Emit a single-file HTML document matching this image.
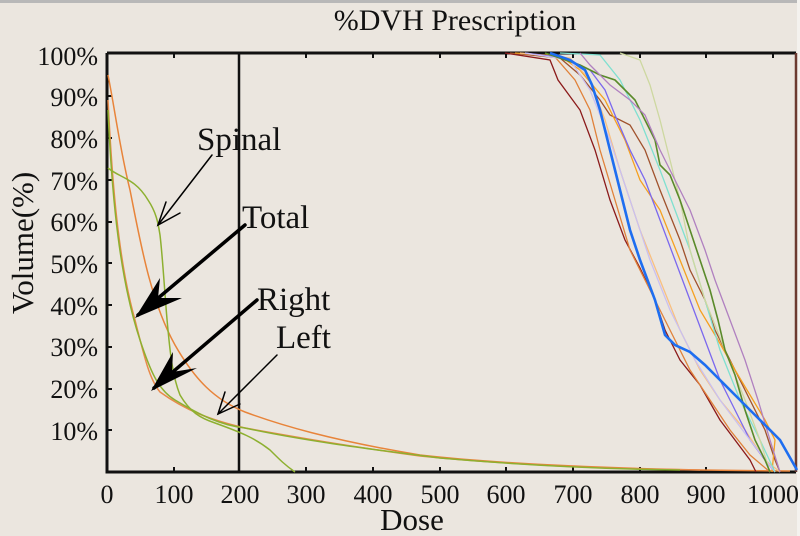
<!DOCTYPE html>
<html><head><meta charset="utf-8"><style>
html,body{margin:0;padding:0;background:#fff;}
svg{display:block;}
text{font-family:"Liberation Serif",serif;fill:#111;}
</style></head><body>
<svg width="800" height="536" viewBox="0 0 800 536" xmlns="http://www.w3.org/2000/svg">
<rect x="0" y="0" width="800" height="536" fill="#ebe6df"/>
<rect x="0" y="0" width="800" height="3" fill="#b8b8b8"/>
<rect x="797" y="0" width="3" height="536" fill="#f4f2ee"/>
<text x="455" y="30" font-size="30" text-anchor="middle">%DVH Prescription</text>

<g stroke="#111" fill="none">
<path d="M107,53 H796 M107,53 V472 H796" stroke-width="3"/>
<line x1="239" y1="53" x2="239" y2="472" stroke-width="2.5"/>
<line x1="796" y1="53" x2="796" y2="472" stroke="#6b3a30" stroke-width="2.5"/>
<g stroke-width="2">
<path d="M174,472v-5M306,472v-5M373,472v-5M440,472v-5M506,472v-5M573,472v-5M640,472v-5M706,472v-5M773,472v-5"/>
<path d="M174,53v5M306,53v5M373,53v5M440,53v5M506,53v5M573,53v5M640,53v5M706,53v5M773,53v5"/>
<path d="M107,430h5M107,389h5M107,347h5M107,305h5M107,263h5M107,222h5M107,180h5M107,138h5M107,96h5"/>
</g>
</g>

<g font-size="26" text-anchor="end">
<text x="98" y="65">100%</text>
<text x="98" y="106">90%</text>
<text x="98" y="148">80%</text>
<text x="98" y="190">70%</text>
<text x="98" y="231">60%</text>
<text x="98" y="273">50%</text>
<text x="98" y="315">40%</text>
<text x="98" y="356">30%</text>
<text x="98" y="398">20%</text>
<text x="98" y="440">10%</text>
</g>
<text transform="translate(33,243) rotate(-90)" font-size="31" text-anchor="middle">Volume(%)</text>
<g font-size="26" text-anchor="middle">
<text x="107" y="503">0</text><text x="174" y="503">100</text><text x="240" y="503">200</text>
<text x="306" y="503">300</text><text x="373" y="503">400</text><text x="440" y="503">500</text>
<text x="506" y="503">600</text><text x="573" y="503">700</text><text x="640" y="503">800</text>
<text x="706" y="503">900</text><text x="773" y="503">1000</text>
</g>
<text x="412" y="530" font-size="31" text-anchor="middle">Dose</text>

<g fill="none" stroke-width="1.5">
<path stroke="#e8843a" d="M108,75 C115,110 120,150 130,190 C140,240 150,300 175,345 C195,380 215,400 245,412 C280,425 330,440 420,455 C500,464 600,468 700,470 L790,471"/>
<path stroke="#e88a4a" d="M108,100 C112,180 118,260 135,320 C145,360 150,380 160,392 C185,410 210,420 245,428 C290,436 340,445 420,456 C520,466 620,469 700,470"/>
<path stroke="#8db030" d="M108,110 C112,200 120,280 140,340 C150,370 158,390 175,400 C200,415 220,425 245,428 C300,440 360,448 440,458 C520,465 600,469 680,470"/>
<path stroke="#8db030" d="M108,168 C120,178 135,178 148,200 C156,212 158,222 160,235 C163,260 165,300 168,330 C170,350 172,375 180,395 C190,412 200,418 215,423 C240,432 255,438 270,450 C280,460 285,465 295,472"/>
</g>

<g font-size="33">
<text x="197" y="150">Spinal</text>
<text x="242" y="228">Total</text>
<text x="257" y="310">Right</text>
<text x="276" y="348">Left</text>
</g>
<g stroke="#000" fill="none" stroke-linecap="round">
<line x1="212" y1="155" x2="158" y2="225" stroke-width="1.5"/>
<path d="M166,202 L158,225 L180,213" stroke-width="1.5"/>
<line x1="245" y1="225" x2="138" y2="315" stroke-width="3.5"/>
<line x1="257" y1="300" x2="154" y2="388" stroke-width="3.5"/>
<line x1="277" y1="355" x2="218" y2="414" stroke-width="1.5"/>
<path d="M225,392 L218,414 L240,404" stroke-width="1.5"/>
</g>
<g fill="#000">
<path d="M135,318 L160,278 L158,298 L182,298 Z"/>
<path d="M151,391 L173,352 L172,372 L197,368 Z"/>
</g>

<g fill="none" stroke-width="1.3">
<path stroke="#8b1a1a" d="M505,53 L550,60 558,80 580,110 595,150 610,200 625,240 640,268 655,300 665,330 680,360 700,385 720,420 735,440 750,460 756,472"/>
<path stroke="#a0522d" d="M510,53 L560,58 580,75 600,100 610,115 630,125 645,150 660,190 680,240 690,270 705,300 715,330 735,370 750,400 765,430 775,460 780,472"/>
<path stroke="#f5a020" d="M515,53 L560,56 580,70 605,100 625,140 640,180 660,210 680,260 700,310 718,340 735,370 750,395 765,420 775,440 772,472"/>
<path stroke="#e0813a" d="M520,53 L555,57 575,80 590,110 600,150 615,200 630,250 650,290 670,330 690,370 710,400 730,430 750,455 770,472"/>
<path stroke="#f8c080" d="M520,53 L570,58 590,80 605,120 620,170 640,230 660,280 680,330 700,370 720,400 745,430 765,460 780,472"/>
<path stroke="#7b68ee" d="M525,53 L565,58 590,70 605,90 615,115 630,150 645,180 660,220 675,260 690,300 705,340 720,380 735,410 750,440 765,460 775,472"/>
<path stroke="#c9c0f0" d="M525,53 L570,60 590,90 610,140 630,200 650,260 670,310 695,360 720,400 750,440 775,472"/>
<path stroke="#7fe0d0" d="M560,53 L600,55 620,80 640,120 660,170 675,210 690,250 705,300 720,350 740,400 760,440 775,472"/>
<path stroke="#cdd8a0" d="M620,53 L640,60 650,85 660,120 670,160 680,200 690,250 705,300 725,350 745,400 760,440 770,472"/>
<path stroke="#5a8a2a" stroke-width="1.6" d="M545,53 L580,65 600,75 615,80 625,90 635,100 645,120 655,140 660,165 670,175 680,200 690,230 700,260 710,290 718,320 725,350 735,375 745,410 755,440 765,460 770,472"/>
<path stroke="#b080c0" d="M580,53 L590,65 610,85 630,100 645,115 660,150 675,180 690,210 705,250 715,280 730,320 745,360 758,400 770,440 780,472"/>
<path stroke="#1e6ef0" stroke-width="2.6" d="M550,53 L570,60 585,70 592,85 600,110 610,150 620,190 630,230 640,260 655,300 665,335 675,345 690,352 705,365 720,380 740,400 760,420 780,440 797,470"/>
</g>
</svg>
</body></html>
